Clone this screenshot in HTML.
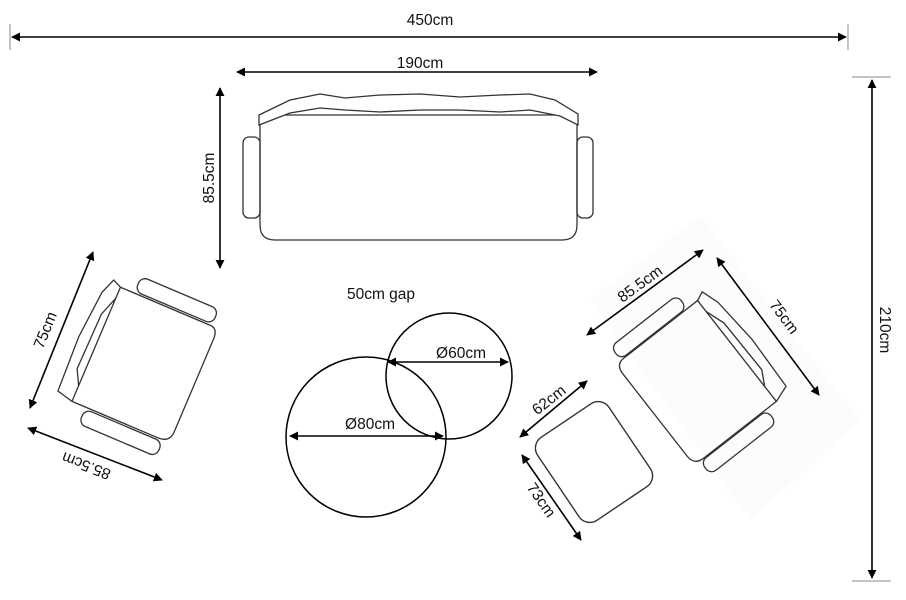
<!DOCTYPE html>
<html><head><meta charset="utf-8"><style>
html,body{margin:0;padding:0;background:#fff;}
svg{display:block;font-family:"Liberation Sans",sans-serif;}
text{font-size:15.5px;fill:#111;}
</style></head><body>
<svg width="906" height="600" viewBox="0 0 906 600" xmlns="http://www.w3.org/2000/svg">
<defs>
<marker id="a" viewBox="0 0 10 10" refX="9" refY="5" markerWidth="9" markerHeight="9" orient="auto-start-reverse" markerUnits="userSpaceOnUse"><path d="M0,0L10,5L0,10z" fill="#000"/></marker>
</defs>
<g stroke="#000" stroke-width="1.6" fill="none">
<line x1="12" y1="37" x2="846" y2="37" marker-start="url(#a)" marker-end="url(#a)"/>
<line x1="10" y1="24" x2="10" y2="50" stroke-width="1" stroke="#888"/>
<line x1="848" y1="24" x2="848" y2="50" stroke-width="1" stroke="#888"/>
<line x1="237" y1="72" x2="597" y2="72" marker-start="url(#a)" marker-end="url(#a)"/>
<line x1="220" y1="88" x2="220" y2="268" marker-start="url(#a)" marker-end="url(#a)"/>
<line x1="872" y1="80" x2="872" y2="578" marker-start="url(#a)" marker-end="url(#a)"/>
<line x1="852" y1="77" x2="891" y2="77" stroke-width="1" stroke="#888"/>
<line x1="852" y1="581" x2="891" y2="581" stroke-width="1" stroke="#888"/>
</g>
<text x="430" y="25" text-anchor="middle">450cm</text>
<text x="420" y="68" text-anchor="middle">190cm</text>
<text transform="translate(214,178) rotate(-90)" text-anchor="middle">85.5cm</text>
<text transform="translate(880,330) rotate(90)" text-anchor="middle">210cm</text>

<g stroke="#333" stroke-width="1.3" fill="none">
<path d="M260,125 L260,225 Q260,240 275,240 L562,240 Q577,240 577,225 L577,125"/>
<path d="M259,115 L290,100 L320,94 L345,98 L380,95 L420,94 L460,97 L500,95 L530,94 L555,100 L578,114 L578,125 L560,116 L530,110 L500,112 L460,110 L420,110 L380,112 L345,110 L320,108 L290,113 L259,125 Z"/>
<line x1="285" y1="115" x2="555" y2="115"/>
<rect x="243" y="137" width="17" height="81" rx="6"/>
<rect x="577" y="137" width="16" height="81" rx="6"/>
</g>

<g transform="translate(145,365) rotate(23)" stroke="#333" stroke-width="1.3" fill="none">
<path d="M-53,-62 L45,-62 Q53,-62 53,-50 L53,50 Q53,62 40,62 L-53,62 Z"/>
<path d="M-53,-62 L-62,-66 L-68,-50 L-72,0 L-70,58 L-53,62"/>
<path d="M-53,-50 L-60,-30 L-61,30 L-53,45"/>
<rect x="-38" y="-80" width="84" height="16" rx="7"/>
<rect x="-38" y="64" width="84" height="16" rx="7"/>
</g>
<g stroke="#000" stroke-width="1.6">
<line x1="30" y1="408" x2="93" y2="252" marker-start="url(#a)" marker-end="url(#a)"/>
<line x1="28" y1="428" x2="162" y2="480" marker-start="url(#a)" marker-end="url(#a)"/>
</g>
<text transform="translate(50,332) rotate(-68)" text-anchor="middle">75cm</text>
<text transform="translate(88,461) rotate(201)" text-anchor="middle">85.5cm</text>

<polygon points="590,300 700,216 860,420 750,520" fill="#fcfcfc"/>
<g transform="translate(696,383) rotate(-38)" stroke="#333" stroke-width="1.3" fill="none">
<path d="M52,-64 L-42,-64 Q-52,-64 -52,-52 L-52,52 Q-52,64 -40,64 L52,64 Z"/>
<path d="M52,-64 L61,-68 L67,-50 L71,0 L69,58 L52,64"/>
<path d="M52,-50 L59,-30 L60,30 L52,45"/>
<rect x="-45" y="-81" width="84" height="16" rx="7"/>
<rect x="-45" y="65" width="84" height="16" rx="7"/>
</g>
<g stroke="#000" stroke-width="1.6">
<line x1="587" y1="335" x2="703" y2="250" marker-start="url(#a)" marker-end="url(#a)"/>
<line x1="717" y1="258" x2="819" y2="395" marker-start="url(#a)" marker-end="url(#a)"/>
</g>
<text transform="translate(643,288) rotate(-36)" text-anchor="middle">85.5cm</text>
<text transform="translate(780,320) rotate(53)" text-anchor="middle">75cm</text>

<g transform="translate(594,462) rotate(-34)">
<rect x="-43" y="-50" width="86" height="100" rx="13" stroke="#333" stroke-width="1.4" fill="none"/>
</g>
<g stroke="#000" stroke-width="1.6">
<line x1="520" y1="437" x2="587" y2="381" marker-start="url(#a)" marker-end="url(#a)"/>
<line x1="522" y1="455" x2="581" y2="540" marker-start="url(#a)" marker-end="url(#a)"/>
</g>
<text transform="translate(552,404) rotate(-38)" text-anchor="middle">62cm</text>
<text transform="translate(537,503) rotate(55)" text-anchor="middle">73cm</text>

<g stroke="#000" stroke-width="1.5" fill="none">
<circle cx="366" cy="437" r="80"/>
<circle cx="449" cy="376" r="63"/>
<line x1="290" y1="436" x2="443" y2="436" marker-start="url(#a)" marker-end="url(#a)"/>
<line x1="388" y1="362" x2="508" y2="362" marker-start="url(#a)" marker-end="url(#a)"/>
</g>
<text x="370" y="429" text-anchor="middle">Ø80cm</text>
<text x="461" y="358" text-anchor="middle">Ø60cm</text>
<text x="381" y="299" text-anchor="middle">50cm gap</text>
</svg>
</body></html>
